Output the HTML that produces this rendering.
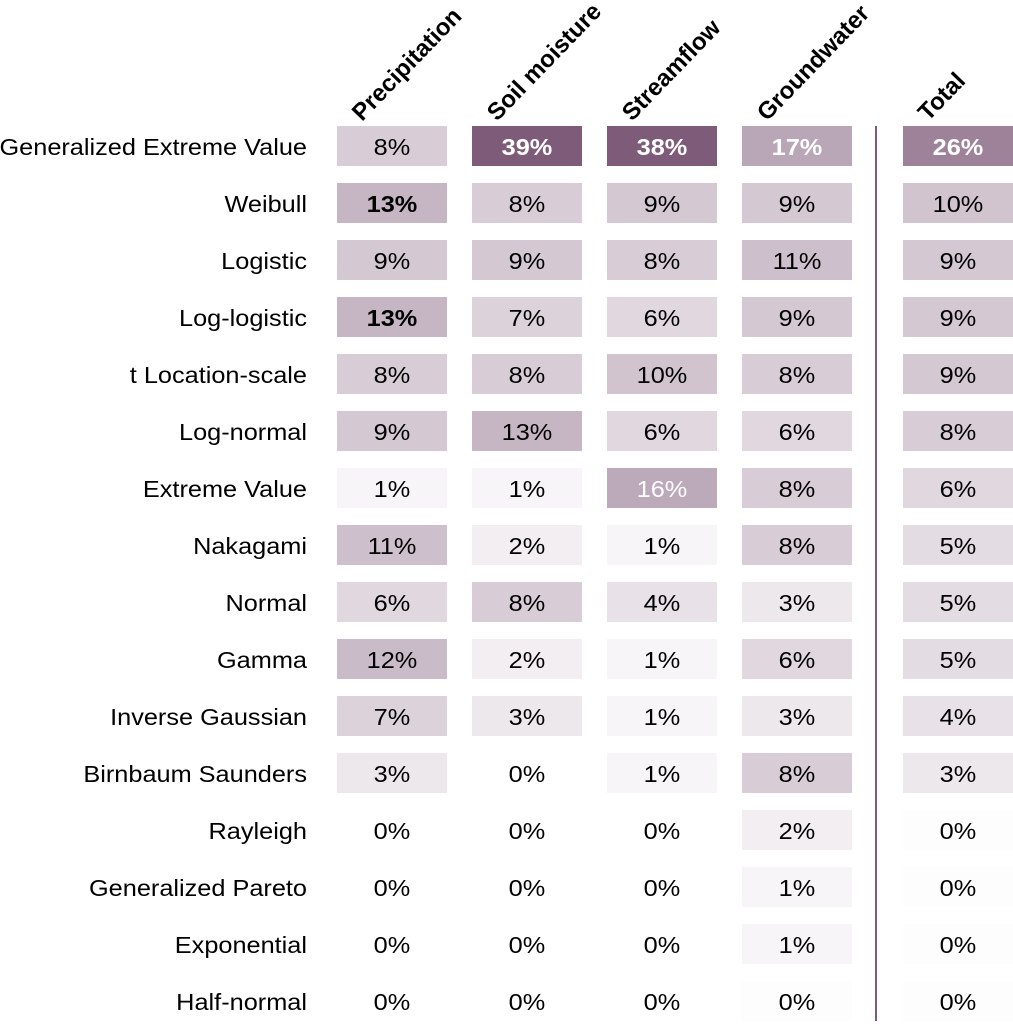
<!DOCTYPE html>
<html><head><meta charset="utf-8"><style>
body{margin:0;background:#fff;width:1013px;height:1021px;overflow:hidden;font-family:"Liberation Sans","DejaVu Sans",sans-serif}
</style></head><body>
<svg id="chart" width="1013" height="1021" xmlns="http://www.w3.org/2000/svg"></svg>
<script>
const rows=["Generalized Extreme Value","Weibull","Logistic","Log-logistic","t Location-scale","Log-normal","Extreme Value","Nakagami","Normal","Gamma","Inverse Gaussian","Birnbaum Saunders","Rayleigh","Generalized Pareto","Exponential","Half-normal"];
const cols=["Precipitation","Soil moisture","Streamflow","Groundwater","Total"];
const precip=[8,13,9,13,8,9,1,11,6,12,7,3,0,0,0,0];
const soil=[39,8,9,7,8,13,1,2,8,2,3,0,0,0,0,0];
const stream=[38,9,8,6,10,6,16,1,4,1,1,1,0,0,0,0];
const ground=[17,9,11,9,8,6,8,8,3,6,3,8,2,1,1,0];
const total=[26,10,9,9,9,8,6,5,5,5,4,3,0,0,0,0];
const series=[precip,soil,stream,ground,total];
const ns="http://www.w3.org/2000/svg";
const svg=document.getElementById("chart");
const colX=[392,527,662,797,958];
const cellW=110,cellH=40,rowY0=126,rowStep=57;
const STRETCH=1.1;
function yOf(i){return rowY0+i*rowStep;}
function alphaOf(v){if(v<=0)return 0.012;return Math.min(1,0.06*Math.pow(v,0.78));}
function mk(t,a){const e=document.createElementNS(ns,t);for(const k in a)e.setAttribute(k,a[k]);svg.appendChild(e);return e;}
function stretch(t){const w=t.getComputedTextLength();t.setAttribute("textLength",(w*STRETCH).toFixed(1));t.setAttribute("lengthAdjust","spacingAndGlyphs");}
cols.forEach((c,j)=>{
  const x0=colX[j]-30,y0=122;
  const t=mk("text",{x:x0,y:y0,"font-size":24,"font-weight":"bold",fill:"#000",transform:`rotate(-46 ${x0} ${y0})`});
  t.textContent=c;
  
  
});
rows.forEach((r,i)=>{
  const t=mk("text",{x:307,y:yOf(i)+29,"font-size":23,"text-anchor":"end",fill:"#000"});
  t.textContent=r;
  
  
  stretch(t);
  series.forEach((s,j)=>{
    const v=s[i];
    const a=alphaOf(v);
    if(!(v===0&&j<3)){
      const rc=mk("rect",{x:colX[j]-cellW/2,y:yOf(i),width:cellW,height:cellH,fill:`rgba(127,91,122,${a.toFixed(3)})`});
      
      
    }
    const isMax=Math.max(...s)===v && v>0;
    const tx=mk("text",{x:colX[j],y:yOf(i)+29,"font-size":23,"text-anchor":"middle",fill:v>=16?"#fff":"#000","font-weight":isMax?"bold":"normal"});
    tx.textContent=v+"%";
    
    
    stretch(tx);
  });
});
const ln=mk("line",{x1:876,x2:876,y1:126,y2:1021,stroke:"#7d5a78","stroke-width":2});


</script>
</body></html>
